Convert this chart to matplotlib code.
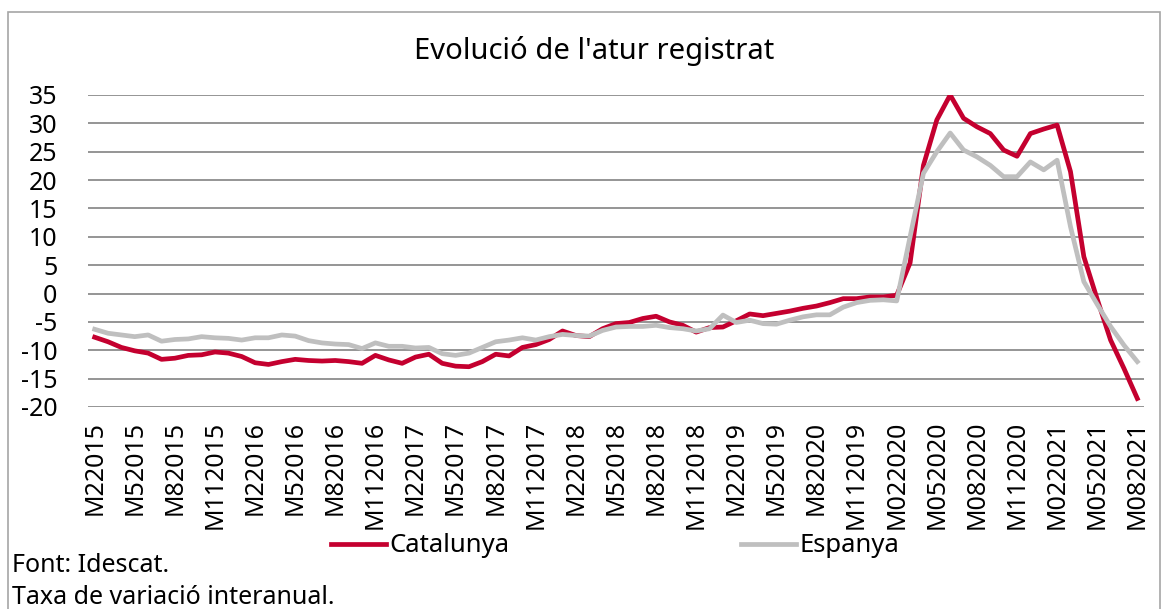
#-- Imports.

import numpy as np
import matplotlib
matplotlib.use("Agg")
import matplotlib.pyplot as plt
from matplotlib.patches import Rectangle


#-- Data (monthly, Feb 2015 - Aug 2021, year-on-year change %).

catalunya = [-7.7, -8.5, -9.5, -10.1, -10.5, -11.6, -11.4, -10.9, -10.8, -10.3, -10.5,
             -11.1, -12.2, -12.5, -12.0, -11.6, -11.8, -11.9, -11.8, -12.0, -12.3, -10.9, -11.7,
             -12.3, -11.2, -10.7, -12.3, -12.8, -12.9, -12.0, -10.7, -11.0, -9.5, -9.0, -8.1,
             -6.6, -7.4, -7.6, -6.2, -5.3, -5.1, -4.4, -4.0, -5.0, -5.6, -6.8, -6.0,
             -5.9, -4.8, -3.6, -3.9, -3.5, -3.1, -2.6, -2.2, -1.6, -0.9, -0.9, -0.6,
             -0.6, -0.3, 5.4, 22.6, 30.6, 35.0, 30.9, 29.4, 28.2, 25.3, 24.2, 28.2,
             29.0, 29.7, 21.5, 6.5, -1.0, -8.2, -13.2, -18.5]

espanya = [-6.3, -7.0, -7.3, -7.6, -7.3, -8.4, -8.1, -8.0, -7.6, -7.8, -7.9,
           -8.2, -7.8, -7.8, -7.3, -7.5, -8.3, -8.7, -8.9, -9.0, -9.7, -8.7, -9.3,
           -9.3, -9.6, -9.5, -10.6, -10.9, -10.5, -9.5, -8.5, -8.2, -7.8, -8.2, -7.6,
           -7.2, -7.4, -7.5, -6.5, -5.9, -5.8, -5.8, -5.6, -6.0, -6.2, -6.6, -6.2,
           -3.8, -5.1, -4.7, -5.3, -5.4, -4.7, -4.1, -3.75, -3.75, -2.4, -1.6, -1.2,
           -1.1, -1.3, 10.0, 21.2, 25.0, 28.3, 25.3, 24.1, 22.6, 20.6, 20.6, 23.2,
           21.8, 23.5, 11.8, 2.1, -1.9, -5.8, -9.1, -12.0]

# one label every three months (typo M82020 kept as in the source)
tick_labels = ['M22015', 'M52015', 'M82015', 'M112015',
               'M22016', 'M52016', 'M82016', 'M112016',
               'M22017', 'M52017', 'M82017', 'M112017',
               'M22018', 'M52018', 'M82018', 'M112018',
               'M22019', 'M52019', 'M82020', 'M112019',
               'M022020', 'M052020', 'M082020', 'M112020',
               'M022021', 'M052021', 'M082021']

y_ticks = [35, 30, 25, 20, 15, 10, 5, 0, -5, -10, -15, -20]


#-- Figure.

plt.rcParams['font.family'] = ['Noto Sans', 'DejaVu Sans']

W, H = 1168, 609
fig = plt.figure(figsize=(W / 100, H / 100), dpi=100)

ax = fig.add_axes([88 / W, 1 - 407 / H, (1144 - 88) / W, (407 - 95) / H])

x = np.arange(len(catalunya))
ax.plot(x, catalunya, color='#C4002F', lw=3.4, label='Catalunya', zorder=3)
ax.plot(x, espanya, color='#BFBFBF', lw=3.4, label='Espanya', zorder=3)

ax.set_xlim(-0.5, len(x) - 0.5)
ax.set_ylim(-20, 35)
ax.set_yticks(y_ticks)
ax.set_yticklabels([str(v) for v in y_ticks], fontsize=18)
ax.set_xticks(x[::3])
ax.set_xticklabels(tick_labels, rotation=90, fontsize=18)

ax.tick_params(axis='y', length=0, pad=22)
ax.tick_params(axis='x', length=0, pad=10)
ax.yaxis.grid(True, color='#8C8C8C', lw=1.3)
ax.set_axisbelow(True)
for s in ax.spines.values():
    s.set_visible(False)

# title
fig.text(594 / W, 1 - 51 / H, "Evolució de l'atur registrat", fontsize=21,
         ha='center', va='center')

# legend spread below the labels
fig.legend(loc='center', bbox_to_anchor=(615 / W, 1 - 546 / H), ncol=2,
           frameon=False, fontsize=18.5, handlelength=2.15, handletextpad=0.12,
           columnspacing=9.0, borderpad=0)

# footnotes
fig.text(12 / W, 1 - 566 / H, 'Font: Idescat.', fontsize=18, va='center')
fig.text(12 / W, 1 - 597 / H, 'Taxa de variació interanual.', fontsize=18, va='center')

# outer frame
fig.patches.append(Rectangle((8 / W, -0.02), (1160 - 8) / W, (H - 12) / H + 0.02,
                             transform=fig.transFigure, fill=False,
                             edgecolor='#A6A6A6', lw=1.2))

fig.savefig('out.png', dpi=100)
